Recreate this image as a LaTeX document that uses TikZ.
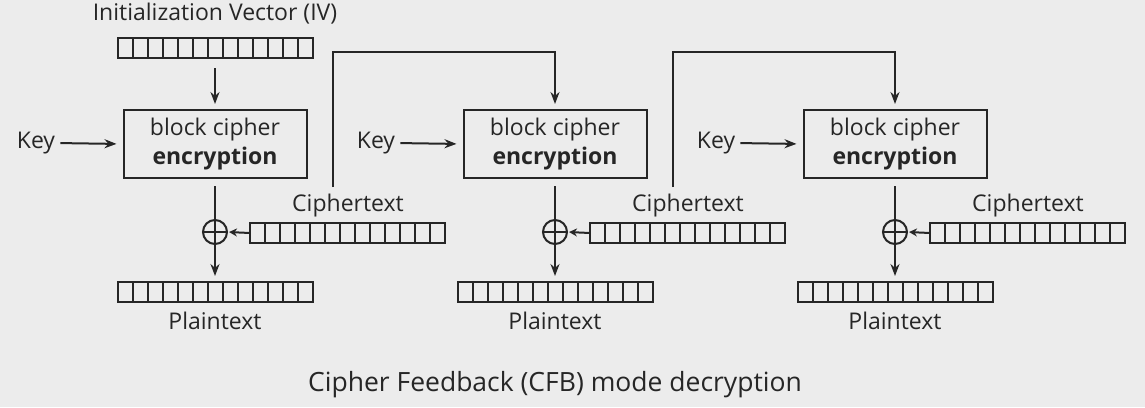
\documentclass[tikz,border=0pt]{standalone}
\usepackage{fontspec}
\setmainfont{Open Sans}
\usetikzlibrary{arrows.meta,calc}
\definecolor{bg}{RGB}{236,236,236}
\definecolor{ink}{RGB}{38,38,38}
\begin{document}
\begin{tikzpicture}[x=1pt,y=-1pt,
  lw/.style={line width=2pt, draw=ink},
  reg/.style={lw, minimum width=195pt, minimum height=20pt, inner sep=0pt, outer sep=0pt,
    path picture={\foreach \i in {1,...,12}
      \draw[ink,line width=2pt] ([xshift=\i*15pt]path picture bounding box.south west) -- ([xshift=\i*15pt]path picture bounding box.north west);}},
  blockbox/.style={lw, minimum width=183pt, minimum height=68pt, align=center, inner sep=0pt,
    font=\fontsize{23}{29}\selectfont, text=ink},
  xor/.style={circle, lw, minimum size=24pt, inner sep=0pt,
    path picture={\draw[ink,line width=2pt] (path picture bounding box.north) -- (path picture bounding box.south)
      (path picture bounding box.west) -- (path picture bounding box.east);}},
  lbl/.style={font=\fontsize{23}{27}\selectfont, text=ink, inner sep=0pt},
  arr/.style={lw, -{Stealth[length=12pt,width=9pt]}},
  sarr/.style={lw, -{Stealth[length=8pt,width=8pt]}}
]
\fill[bg] (0,0) rectangle (1145,407);
\useasboundingbox (0,0) rectangle (1145,407);

% IV
\node[lbl] (ivl) at (215,14) {Initialization Vector (IV)};
\node[reg] (iv) at (215,48) {};

\foreach \k/\ox in {1/0,2/340,3/680}{
  \node[blockbox] (b\k) at (215+\ox,144) {block cipher\\\textbf{encryption}};
  \node[lbl] (key\k) at (36+\ox,143) {Key};
  \node[xor] (x\k) at (215+\ox,232) {};
  \node[reg] (p\k) at (215+\ox,292) {};
  \node[lbl] (pl\k) at (215+\ox,321) {Plaintext};
  \node[reg] (c\k) at (347.5+\ox,233) {};
  \node[lbl] (cl\k) at (348+\ox,206) {Ciphertext};
  \coordinate (fb\k) at (333+\ox,187);
  \coordinate (t\k) at (215+\ox,52);
  \draw[arr, shorten <=5pt, shorten >=6pt] (key\k.east) -- (b\k.west);
  \draw[lw] ($(b\k.south)+(0,7)$) -- (x\k.north);
  \draw[arr, shorten >=6pt] (x\k.south) -- (p\k.north);
  \draw[sarr, shorten >=1pt] (c\k.west) -- (x\k.east);
}

\draw[arr, shorten <=10pt, shorten >=5pt] (iv.south) -- (b1.north);
\draw[arr, shorten >=5pt] (fb1) |- (t2) -- (b2.north);
\draw[arr, shorten >=5pt] (fb2) |- (t3) -- (b3.north);

\node[font=\fontsize{26.5}{32}\selectfont, text=ink, inner sep=0pt] (title) at (555,385) {Cipher Feedback (CFB) mode decryption};
\end{tikzpicture}
\end{document}
